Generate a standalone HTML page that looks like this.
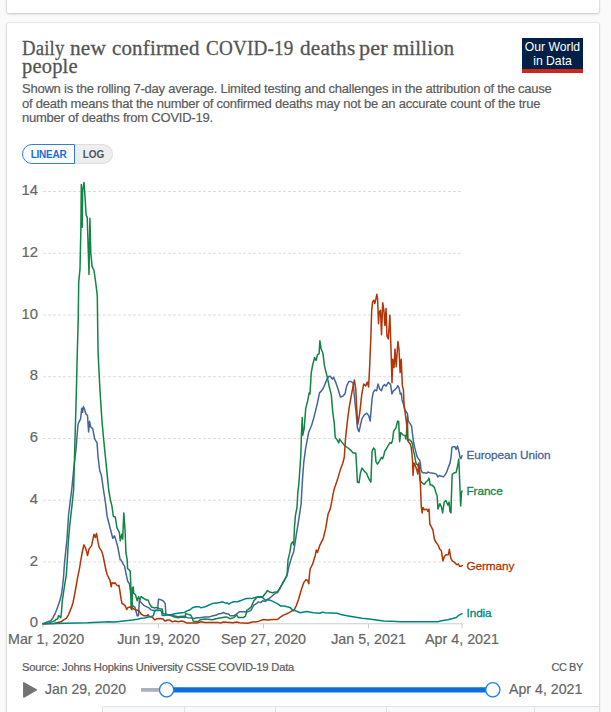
<!DOCTYPE html>
<html><head><meta charset="utf-8"><title>Daily new confirmed COVID-19 deaths per million people</title>
<style>
html,body{margin:0;padding:0;}
body{width:611px;height:712px;overflow:hidden;background:#fafafa;position:relative;font-family:"Liberation Sans",Arial,sans-serif;}
.card{position:absolute;left:7px;width:592px;background:#fff;border-radius:2px;box-shadow:0 0 0 1px rgba(0,0,0,.05),0 1px 3px rgba(0,0,0,.18);}
.top{top:-20px;height:33px;}
.main{top:23px;height:720px;}
.title{position:absolute;left:22px;top:38.8px;margin:0;font-family:"Liberation Serif",serif;font-weight:normal;font-size:20.5px;line-height:18px;color:#555;-webkit-text-stroke:0.3px #555;letter-spacing:0.18px;white-space:nowrap;width:560px;height:40px;}
.title span{position:absolute;top:0;transform-origin:0 0;}
.desc{position:absolute;left:22px;top:82px;margin:0;font-size:13px;line-height:14.6px;color:#5b5b5b;letter-spacing:-0.23px;-webkit-text-stroke:0.2px #5b5b5b;white-space:nowrap;}
.logo{position:absolute;left:522px;top:38px;width:61px;height:35px;background:#002147;color:#fff;font-size:12.2px;line-height:13.4px;text-align:center;box-sizing:border-box;padding-top:3.4px;}
.logo .bar{position:absolute;left:0;right:0;bottom:0;height:4px;background:#ce261e;}
.btns{position:absolute;left:22px;top:144px;height:20px;display:flex;font-size:10px;font-weight:bold;}
.b1{width:51px;height:18px;border:1px solid #2e7ce0;border-radius:10px 0 0 10px;color:#1c6be0;letter-spacing:-0.25px;display:flex;align-items:center;justify-content:center;background:#fff;}
.b2{width:37px;height:18px;border:1px solid #ddd;border-left:none;border-radius:0 10px 10px 0;color:#485468;display:flex;align-items:center;justify-content:center;background:#eee;}
svg{position:absolute;left:0;top:0;}
.g{stroke:#ddd;stroke-width:1;stroke-dasharray:3,2;}
.tk{stroke:#ccc;stroke-width:1;}
.yl{font-family:"Liberation Sans",sans-serif;font-size:14.8px;fill:#666;text-anchor:end;stroke:#666;stroke-width:0.2px;}
.xl{font-family:"Liberation Sans",sans-serif;font-size:14.3px;fill:#666;stroke:#666;stroke-width:0.2px;}
.ln{fill:none;stroke-width:1.5;stroke-linejoin:round;stroke-linecap:round;}
.lab{font-family:"Liberation Sans",sans-serif;font-size:11.8px;stroke-width:0.3px;letter-spacing:-0.1px;}
.src{position:absolute;left:22px;top:660.8px;font-size:11.2px;letter-spacing:-0.2px;color:#5b5b5b;white-space:nowrap;-webkit-text-stroke:0.2px #5b5b5b;}
.cc{position:absolute;right:28px;top:660.6px;font-size:11px;color:#5b5b5b;letter-spacing:-0.4px;-webkit-text-stroke:0.2px #5b5b5b;}
.d1{position:absolute;left:45px;top:681px;font-size:14px;color:#666;white-space:nowrap;-webkit-text-stroke:0.2px #666;}
.d2{position:absolute;left:509px;top:681px;font-size:14.2px;color:#666;white-space:nowrap;-webkit-text-stroke:0.2px #666;}
.tabs{position:absolute;left:102px;top:706px;width:497px;height:10px;border-top:1px solid #e2e2e2;background:#f8f9fb;}
.tabs i{position:absolute;top:0;height:10px;border-left:1px solid #e2e2e2;}
</style></head><body>
<div class="card top"></div>
<div class="card main"></div>
<h1 class="title"><span style="left:0px;transform:scaleX(0.915)">Daily</span> <span style="left:48.1px;transform:scaleX(1.04)">new</span> <span style="left:89.8px;transform:scaleX(1.02)">confirmed</span> <span style="left:184.4px;transform:scaleX(0.935)">COVID-19</span> <span style="left:278.2px;transform:scaleX(1.035)">deaths</span> <span style="left:336.6px;transform:scaleX(1.08)">per</span> <span style="left:370.6px;transform:scaleX(1.015)">million</span><br><span style="left:0px;top:18px">people</span></h1>
<p class="desc">Shown is the rolling 7-day average. Limited testing and challenges in the attribution of the cause<br>of death means that the number of confirmed deaths may not be an accurate count of the true<br>number of deaths from COVID-19.</p>
<div class="logo">Our World<br>in Data<div class="bar"></div></div>
<div class="btns"><div class="b1">LINEAR</div><div class="b2">LOG</div></div>
<svg width="611" height="712" viewBox="0 0 611 712">
<line x1="43" y1="562.00" x2="462" y2="562.00" class="g"/><line x1="43" y1="500.25" x2="462" y2="500.25" class="g"/><line x1="43" y1="438.50" x2="462" y2="438.50" class="g"/><line x1="43" y1="376.75" x2="462" y2="376.75" class="g"/><line x1="43" y1="315.00" x2="462" y2="315.00" class="g"/><line x1="43" y1="253.25" x2="462" y2="253.25" class="g"/><line x1="43" y1="191.50" x2="462" y2="191.50" class="g"/>
<line x1="43" y1="623.75" x2="462" y2="623.75" stroke="#ccc" stroke-width="1"/>
<line x1="43" y1="623.75" x2="43" y2="628.25" class="tk"/><line x1="158.5" y1="623.75" x2="158.5" y2="628.25" class="tk"/><line x1="263.5" y1="623.75" x2="263.5" y2="628.25" class="tk"/><line x1="368.5" y1="623.75" x2="368.5" y2="628.25" class="tk"/><line x1="462" y1="623.75" x2="462" y2="628.25" class="tk"/>
<text x="38" y="627.35" class="yl">0</text><text x="38" y="565.60" class="yl">2</text><text x="38" y="503.85" class="yl">4</text><text x="38" y="442.10" class="yl">6</text><text x="38" y="380.35" class="yl">8</text><text x="38" y="318.60" class="yl">10</text><text x="38" y="256.85" class="yl">12</text><text x="38" y="195.10" class="yl">14</text>
<text x="8" y="643.5" text-anchor="start" class="xl">Mar 1, 2020</text><text x="158.5" y="643.5" text-anchor="middle" class="xl">Jun 19, 2020</text><text x="263.5" y="643.5" text-anchor="middle" class="xl">Sep 27, 2020</text><text x="368.5" y="643.5" text-anchor="middle" class="xl">Jan 5, 2021</text><text x="462" y="643.5" text-anchor="middle" class="xl">Apr 4, 2021</text>
<polyline class="ln" stroke="#46659b" points="43.0,623.8 44.9,622.9 47.9,621.8 50.8,620.7 53.0,617.7 55.6,612.6 57.8,606.7 60.0,600.0 61.5,594.1 62.6,586.0 63.4,578.7 63.7,575.0 64.5,563.1 67.0,539.1 68.6,514.5 70.3,501.0 71.9,488.0 73.6,470.4 76.0,449.1 78.0,424.5 79.3,421.3 80.6,418.8 81.7,408.2 82.6,412.3 83.4,406.5 84.5,409.0 85.8,413.9 87.5,415.5 88.6,431.9 89.6,421.3 90.7,427.0 92.7,428.6 94.8,439.3 97.0,442.6 98.1,457.3 99.7,470.4 101.4,475.3 103.5,490.0 105.5,503.0 107.1,516.2 109.6,526.0 112.8,538.3 114.5,535.8 115.6,539.1 117.7,546.5 120.2,559.8 121.1,560.0 123.3,564.4 124.6,566.1 125.9,573.0 127.6,580.9 128.5,582.6 129.4,583.5 130.5,592.0 132.4,605.3 135.0,607.4 136.3,612.2 137.2,615.7 138.5,615.7 139.4,600.0 141.1,602.6 143.7,605.3 146.3,606.6 148.9,607.9 150.7,609.6 153.3,610.5 157.6,610.0 158.5,599.2 160.0,599.4 162.9,600.8 164.4,602.3 165.2,603.8 165.9,614.1 166.6,614.8 171.0,615.2 174.7,615.9 178.4,616.7 182.1,616.3 185.0,616.3 186.5,617.4 188.0,617.8 191.7,618.1 194.6,618.5 196.8,617.8 199.8,617.8 205.0,616.9 209.4,616.9 213.1,615.8 216.8,615.0 218.3,613.9 221.2,613.6 223.4,612.5 225.6,613.6 228.6,613.9 230.0,615.8 233.7,615.8 236.7,613.9 239.6,611.7 248.0,611.8 250.9,610.3 253.9,605.2 256.8,603.4 258.3,601.9 260.5,602.6 262.7,600.8 265.7,601.5 266.4,600.0 270.1,597.8 273.0,595.2 276.0,593.0 278.2,590.8 280.4,587.5 282.6,583.1 284.8,579.4 287.0,575.7 288.8,567.0 291.3,558.2 293.7,551.7 296.2,535.3 298.6,520.6 301.1,504.2 301.9,489.5 302.7,476.4 303.8,462.0 305.7,447.9 308.7,432.2 311.6,425.3 313.6,418.5 315.6,410.6 317.5,402.7 319.5,392.9 321.5,390.9 323.4,388.0 325.4,383.1 327.0,379.1 328.5,376.6 330.3,376.2 332.3,379.1 333.6,377.2 335.6,382.1 338.1,389.3 340.4,397.0 342.7,396.2 345.0,393.9 346.6,386.2 348.9,381.5 351.2,381.5 353.2,383.1 354.3,395.5 355.9,410.9 357.4,427.9 359.0,431.8 360.5,424.8 362.0,418.6 364.4,414.8 366.7,413.2 368.7,415.5 370.2,421.0 372.1,398.5 373.3,392.4 374.9,390.0 376.7,390.8 378.0,383.9 379.8,389.3 381.4,390.8 382.9,386.2 384.5,384.6 386.0,386.2 388.3,382.3 390.6,384.6 391.9,393.9 393.4,390.8 395.3,389.3 396.8,387.7 397.8,385.6 399.2,388.4 400.3,394.0 401.3,393.3 402.0,399.7 403.4,403.9 404.8,409.5 406.2,411.6 407.4,413.7 408.3,420.7 409.0,422.1 410.4,424.2 411.6,426.3 412.6,434.8 413.5,441.8 414.7,447.4 415.8,451.6 416.8,455.8 418.2,458.7 419.6,460.1 420.3,462.9 421.0,469.9 422.4,472.7 424.5,472.7 426.6,473.4 428.0,472.0 429.4,472.7 431.5,473.0 434.3,473.4 436.4,474.1 437.8,476.9 439.2,475.5 441.3,476.2 443.5,476.9 445.6,474.1 447.0,471.3 448.4,467.1 450.1,462.9 451.2,455.8 451.9,447.4 453.3,446.7 455.1,446.7 456.1,449.5 457.5,446.0 458.2,448.8 459.3,453.0 459.9,457.2 460.9,458.7 462.0,455.8"/>
<polyline class="ln" stroke="#108544" points="43.0,623.8 49.4,622.9 53.0,621.4 54.9,620.7 56.0,619.2 57.1,619.2 57.8,618.4 58.6,615.5 59.7,616.6 60.8,617.7 61.5,611.8 62.3,600.8 63.4,593.4 64.5,586.0 65.6,579.4 66.3,575.0 67.3,560.0 68.2,544.0 69.5,527.6 71.9,506.4 73.6,490.0 75.2,432.7 76.3,393.6 77.3,352.7 78.2,320.0 78.7,282.4 80.0,268.9 80.9,228.4 81.3,184.6 82.2,227.3 82.7,190.2 84.0,182.4 84.9,194.7 86.1,215.0 87.2,217.2 89.0,274.5 89.9,218.3 90.8,253.1 92.1,266.6 93.9,270.0 95.7,282.4 97.3,295.8 97.6,320.0 98.1,352.7 99.7,385.5 100.6,400.0 101.9,420.0 103.8,440.9 107.1,473.6 108.7,490.0 110.4,499.8 112.0,506.4 113.3,516.2 115.3,517.0 116.9,527.6 119.4,532.6 120.2,540.7 121.8,534.2 122.7,539.1 123.8,512.9 125.1,530.9 125.9,552.2 126.7,557.1 127.2,560.0 127.6,568.7 128.9,569.6 130.2,571.3 130.7,582.6 131.1,608.7 132.0,609.6 132.4,587.8 133.3,587.0 133.7,593.1 135.5,594.8 137.2,600.9 138.5,596.6 139.8,600.0 141.1,596.6 143.7,598.3 146.3,600.0 148.1,600.0 149.8,604.4 151.6,607.0 154.2,607.9 156.8,607.4 160.0,608.9 162.2,608.9 162.9,613.4 164.4,614.1 165.9,614.1 168.1,614.8 171.0,615.6 174.7,617.0 178.4,617.8 181.4,617.0 185.0,617.4 185.8,613.4 187.2,614.1 190.9,615.2 192.4,618.5 193.1,621.1 194.6,621.5 198.3,621.5 199.8,620.0 202.0,619.6 205.0,619.1 212.4,619.8 216.0,618.7 219.7,618.0 224.1,617.2 226.4,616.9 230.0,618.7 233.7,617.6 236.7,615.0 238.5,617.6 243.3,617.6 245.5,616.1 247.0,609.9 248.0,609.6 250.9,607.4 253.9,600.8 257.6,596.7 262.7,596.7 265.7,593.0 267.5,590.5 270.1,592.3 273.0,592.7 275.2,591.9 277.5,592.7 279.7,588.3 281.9,584.6 284.1,580.9 286.3,576.5 287.2,574.0 288.0,560.0 289.6,553.3 291.3,543.5 292.9,541.8 293.7,545.1 294.5,527.1 295.4,515.6 297.0,507.5 297.8,492.7 298.6,486.2 299.5,474.7 300.8,455.8 301.4,436.1 302.2,417.5 302.8,435.2 304.2,428.3 305.7,408.6 307.7,400.8 309.1,392.9 310.0,393.9 311.2,373.2 312.6,365.4 314.6,357.5 316.1,360.5 317.5,354.6 319.1,353.6 319.9,340.8 321.1,348.7 323.0,353.6 324.4,365.4 325.8,371.3 327.3,377.2 329.3,387.0 331.3,394.9 332.8,412.6 334.2,422.4 335.2,437.1 337.2,440.1 338.7,443.0 339.5,439.1 341.1,441.1 345.0,446.0 348.0,448.0 350.9,450.3 352.9,452.9 355.8,452.9 356.6,466.5 357.4,482.0 359.0,482.8 360.5,472.7 362.0,468.1 364.4,471.2 366.7,473.5 368.2,477.4 369.8,480.4 370.9,482.0 372.1,451.1 373.6,448.0 374.9,449.5 376.0,461.9 377.5,464.2 379.8,460.4 381.4,457.3 382.6,458.8 383.7,455.7 384.8,451.1 386.8,448.0 389.9,442.6 391.4,443.4 392.5,440.3 393.7,431.0 396.0,427.9 397.6,421.0 398.7,421.7 399.6,441.8 400.7,432.5 403.0,434.9 405.0,435.6 405.9,439.0 406.5,433.4 407.4,416.5 407.9,440.4 409.0,439.7 410.4,440.4 411.6,441.8 412.6,444.6 413.3,450.2 414.4,454.4 415.4,460.1 416.3,464.3 417.2,464.3 418.2,465.7 419.2,469.9 420.0,480.5 422.1,482.8 424.4,484.3 425.9,482.0 427.8,480.5 429.0,478.1 430.3,485.1 432.1,485.1 434.4,487.4 436.0,492.8 437.1,495.9 438.0,509.1 439.8,503.7 441.4,506.8 442.6,512.9 444.2,502.1 446.0,500.6 447.9,505.2 449.1,502.1 449.9,511.4 451.0,512.9 451.4,495.9 452.2,474.3 454.5,472.7 456.1,472.4 457.6,466.0 458.8,459.0 460.7,506.0 461.5,492.8 462.0,491.0"/>
<polyline class="ln" stroke="#B13507" points="43.0,623.8 54.0,623.6 58.2,622.5 61.1,621.8 64.1,619.6 66.3,618.4 68.5,614.8 71.5,607.4 72.9,603.0 74.4,595.6 75.9,587.5 77.3,579.4 78.1,575.0 79.3,569.6 80.9,559.8 82.3,552.0 83.9,544.8 85.5,548.1 86.6,551.4 87.5,555.5 89.1,548.9 91.6,545.6 94.0,534.2 95.3,537.5 96.5,533.4 98.1,542.4 99.2,547.3 101.4,550.6 103.0,555.5 105.5,568.0 107.1,574.5 110.0,580.3 111.2,586.8 112.0,582.7 114.5,583.5 115.0,582.6 116.7,585.2 118.5,586.1 118.9,585.2 119.8,590.5 121.1,599.2 122.0,603.5 123.7,604.4 125.4,606.1 126.7,609.6 128.0,607.4 130.7,607.0 134.1,609.2 136.8,610.0 139.4,611.3 141.1,614.0 143.7,615.7 147.2,615.7 148.1,614.7 149.4,616.6 152.4,617.4 155.0,620.0 156.8,618.7 160.0,618.5 162.9,618.9 165.2,621.1 167.4,620.0 169.6,620.0 172.5,621.8 174.7,621.1 178.4,621.8 181.4,621.1 183.6,621.5 186.5,622.9 190.9,622.9 196.8,622.9 201.2,621.8 205.0,622.4 218.3,622.4 220.5,623.1 223.4,622.0 230.0,622.4 233.0,622.8 236.7,622.0 239.6,622.8 248.0,623.2 252.4,622.1 258.3,621.4 263.5,619.5 267.9,619.9 272.3,619.5 277.5,619.5 279.7,617.7 283.3,615.1 286.3,614.0 289.2,612.6 292.2,610.7 293.7,610.7 296.2,605.8 298.6,599.3 301.1,590.3 303.6,582.9 306.0,579.6 307.7,580.5 308.8,583.7 309.3,576.4 310.1,569.0 312.6,564.1 315.0,556.6 316.3,550.0 317.5,552.5 319.9,545.1 323.2,538.6 325.6,528.7 328.1,514.0 330.2,509.1 331.9,500.9 333.0,494.4 334.6,487.8 336.3,482.9 338.1,477.4 340.4,469.6 342.7,463.5 344.3,457.3 345.4,440.1 347.0,424.3 349.0,408.6 350.9,397.8 352.9,387.0 354.4,380.1 355.8,389.0 356.8,410.6 357.8,424.3 359.8,412.6 361.7,394.9 363.7,384.1 365.7,386.0 367.2,382.1 368.6,386.9 369.7,365.9 370.9,335.6 371.7,310.3 372.6,301.9 373.8,300.2 374.8,303.5 376.0,298.5 376.8,294.3 377.6,298.5 378.5,323.8 379.3,312.0 380.5,310.3 381.5,334.7 382.7,302.7 383.9,310.3 384.9,325.5 386.1,308.6 386.9,335.6 388.3,338.9 389.9,315.3 391.1,352.4 392.0,382.8 392.8,359.2 394.0,367.6 395.0,349.0 396.2,366.7 397.9,341.5 399.0,349.0 400.1,372.6 401.2,359.2 402.4,386.1 403.4,389.5 404.1,405.3 405.1,412.3 406.2,420.7 406.9,426.3 407.6,440.4 409.0,442.5 410.2,443.9 411.2,447.4 411.9,453.0 412.6,461.5 413.0,475.5 414.0,462.9 415.4,465.7 416.8,469.9 417.8,474.1 418.9,462.9 420.0,475.5 420.5,486.6 421.3,506.8 422.1,512.9 422.8,507.5 424.4,509.8 426.7,509.1 427.8,511.4 429.0,509.1 429.8,523.8 431.3,526.9 432.9,529.9 434.4,539.2 436.0,542.3 438.3,545.4 439.8,549.3 441.4,550.8 442.9,560.9 444.5,556.2 446.0,554.7 448.3,554.7 449.4,549.3 450.7,557.8 452.2,560.9 454.5,562.4 456.9,564.7 458.4,564.0 459.6,566.3 461.2,566.3 462.3,565.5"/>
<polyline class="ln" stroke="#00847E" points="43.0,623.8 87.5,622.8 108.7,621.7 115.0,622.0 123.7,620.9 132.4,620.0 137.6,619.2 141.1,618.3 144.6,617.9 148.1,617.0 151.6,616.6 153.3,615.7 154.6,611.3 155.9,610.5 160.0,610.6 161.5,611.0 162.2,615.4 164.4,615.6 167.4,614.8 171.0,614.8 174.7,613.7 179.1,613.0 184.3,612.6 186.5,611.1 190.2,609.7 192.4,607.8 196.1,606.7 199.0,606.7 201.2,607.8 203.4,607.1 205.0,606.9 207.9,605.5 212.4,603.6 216.8,602.9 219.7,602.5 222.7,601.8 224.9,602.9 227.1,602.9 228.9,604.0 230.8,602.9 233.7,601.8 237.4,601.8 240.3,600.7 243.3,599.6 246.2,598.5 248.0,598.6 252.4,598.2 257.6,597.1 262.7,597.5 264.9,600.0 269.4,600.0 272.3,601.1 275.2,602.6 278.2,604.1 280.4,605.9 284.1,605.9 287.0,606.7 290.0,607.4 292.2,609.6 295.4,610.7 300.3,612.7 306.8,611.6 313.4,612.7 320.0,613.3 322.5,612.1 324.9,612.8 337.2,613.3 340.9,614.6 347.0,615.8 354.4,617.0 361.7,618.2 369.1,619.0 376.5,620.0 383.8,620.9 391.2,621.2 401.0,621.7 437.8,621.7 442.8,620.4 447.7,619.7 452.6,618.5 456.3,617.5 458.7,615.3 462.0,613.6"/>
<text x="466.5" y="459" class="lab" fill="#46659b" stroke="#46659b">European Union</text>
<text x="466.5" y="494.7" class="lab" fill="#108544" stroke="#108544">France</text>
<text x="466.5" y="570.2" class="lab" fill="#B13507" stroke="#B13507">Germany</text>
<text x="466.5" y="616.5" class="lab" fill="#00847E" stroke="#00847E">India</text>
<path d="M23.8,682.8 L36.3,689.8 L23.8,697 Z" fill="#737373" stroke="#737373" stroke-width="1.5" stroke-linejoin="round"/>
<line x1="141" y1="689.9" x2="167" y2="689.9" stroke="#a9b3bf" stroke-width="3.8" />
<line x1="167" y1="689.9" x2="493" y2="689.9" stroke="#0a6fdc" stroke-width="5.4" />
<circle cx="166.6" cy="690.6" r="7.6" fill="rgba(0,0,0,0.08)"/>
<circle cx="492.8" cy="690.6" r="7.6" fill="rgba(0,0,0,0.08)"/>
<circle cx="166.6" cy="689.8" r="7.1" fill="#fff" stroke="#2a80ea" stroke-width="1.3"/>
<circle cx="492.8" cy="689.8" r="7.1" fill="#fff" stroke="#2a80ea" stroke-width="1.3"/>
</svg>
<div class="src">Source: Johns Hopkins University CSSE COVID-19 Data</div>
<div class="cc">CC BY</div>
<div class="d1">Jan 29, 2020</div>
<div class="d2">Apr 4, 2021</div>
<div class="tabs"><i style="left:0px"></i><i style="left:82px"></i><i style="left:173px"></i><i style="left:284px"></i><i style="left:432px"></i></div>
</body></html>
